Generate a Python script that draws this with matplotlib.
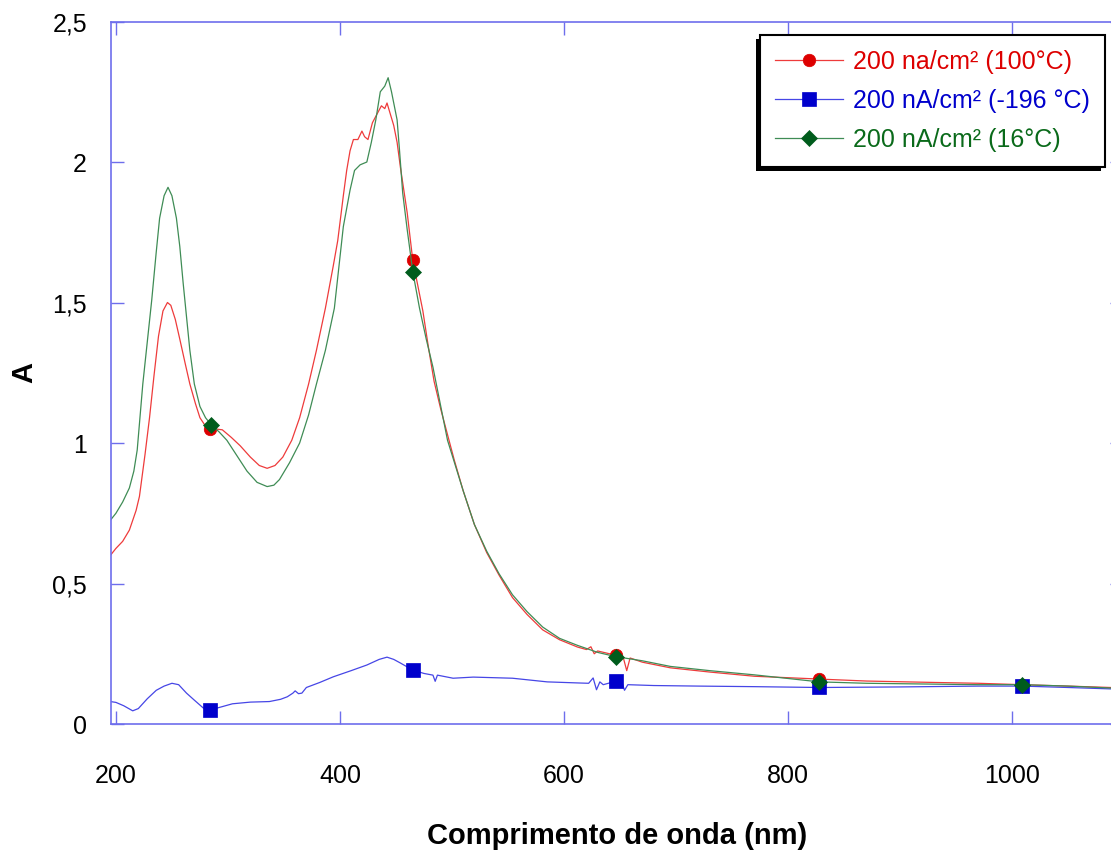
import numpy as np
import matplotlib
matplotlib.use("Agg")
import matplotlib.pyplot as plt
from matplotlib.patches import Rectangle
from matplotlib.transforms import IdentityTransform

plt.rcParams["font.family"] = ["Liberation Sans", "DejaVu Sans"]

# 200 na/cm2 (100 C)
red_x = [195, 200, 206, 212, 218, 221, 226, 230, 234, 238, 242, 246, 249, 253, 257, 262,
         266, 271, 275, 280, 284, 289, 295, 303, 311, 320, 328, 335, 342, 349, 357, 364,
         372, 379, 387, 394, 398, 403, 406, 409, 412, 416, 419.6, 422, 425, 429, 433, 437,
         440, 442, 445, 448, 451, 454, 457, 460, 465, 470, 474, 479, 484, 490, 495, 502,
         510, 520, 531, 542, 554, 567, 581, 596, 612, 620, 624, 627, 630, 646, 650, 653,
         656, 659, 670, 695, 730, 770, 828, 870, 930, 970, 1009, 1050, 1088]
red_y = [0.60, 0.625, 0.65, 0.69, 0.76, 0.81, 0.96, 1.09, 1.24, 1.38, 1.47, 1.50, 1.49, 1.44,
         1.37, 1.28, 1.21, 1.14, 1.09, 1.06, 1.05, 1.05, 1.047, 1.02, 0.99, 0.95, 0.92, 0.91,
         0.92, 0.95, 1.01, 1.09, 1.21, 1.33, 1.48, 1.63, 1.72, 1.88, 1.97, 2.04, 2.08, 2.08,
         2.11, 2.09, 2.08, 2.14, 2.17, 2.20, 2.19, 2.21, 2.17, 2.13, 2.07, 1.98, 1.90, 1.82,
         1.65, 1.55, 1.47, 1.34, 1.22, 1.12, 1.045, 0.94, 0.83, 0.71, 0.61, 0.53, 0.45, 0.39,
         0.335, 0.30, 0.274, 0.265, 0.275, 0.25, 0.26, 0.245, 0.24, 0.235, 0.19, 0.235, 0.22,
         0.20, 0.185, 0.17, 0.16, 0.153, 0.148, 0.145, 0.14, 0.135, 0.13]
red_mk = [284, 465, 646, 828, 1009]

# 200 nA/cm2 (-196 C)
blue_x = [195, 200, 207, 215, 220, 228, 236, 243, 250, 256, 263, 270, 278, 284, 295, 304,
          320, 337, 347, 353, 358, 360, 363, 366, 370, 382, 394, 410, 424, 435, 442, 448,
          454, 465, 475, 483, 485, 487, 501, 519, 554, 585, 614, 622, 626, 629, 632, 635,
          646, 652, 654, 657, 680, 720, 770, 828, 900, 970, 1009, 1050, 1088]
blue_y = [0.08, 0.077, 0.065, 0.047, 0.055, 0.09, 0.12, 0.135, 0.145, 0.14, 0.11, 0.085,
          0.057, 0.05, 0.062, 0.072, 0.078, 0.08, 0.088, 0.097, 0.11, 0.118, 0.108, 0.11,
          0.13, 0.148, 0.168, 0.19, 0.21, 0.23, 0.238, 0.23, 0.217, 0.192, 0.18, 0.174,
          0.152, 0.174, 0.163, 0.167, 0.163, 0.15, 0.146, 0.145, 0.164, 0.122, 0.15, 0.14,
          0.152, 0.145, 0.12, 0.14, 0.137, 0.135, 0.133, 0.13, 0.132, 0.135, 0.135, 0.13,
          0.125]
blue_mk = [284, 465, 646, 828, 1009]

# 200 nA/cm2 (16 C)
green_x = [195, 200, 206, 212, 216, 219, 224, 228, 232, 236, 239, 243, 246.5, 250, 254,
           257, 260, 263, 266, 270, 275, 280, 285, 292, 299, 308, 317, 326, 335, 341, 346,
           355, 364, 372, 379, 387, 395, 403, 409, 413, 418, 424, 428, 432, 436, 440, 443,
           446, 451, 453, 456, 460, 465, 471, 477, 483, 490, 496, 503, 510, 520, 531, 542,
           554, 567, 581, 596, 612, 630, 646, 670, 695, 730, 770, 828, 870, 930, 970, 1009,
           1050, 1088]
green_y = [0.725, 0.75, 0.79, 0.84, 0.90, 0.975, 1.21, 1.36, 1.51, 1.68, 1.80, 1.88, 1.91,
           1.88, 1.80, 1.70, 1.57, 1.45, 1.33, 1.21, 1.13, 1.09, 1.065, 1.04, 1.01, 0.955,
           0.90, 0.86, 0.845, 0.85, 0.87, 0.93, 1.00, 1.10, 1.21, 1.33, 1.48, 1.77, 1.90,
           1.97, 1.99, 2.00, 2.07, 2.15, 2.25, 2.27, 2.30, 2.25, 2.15, 2.05, 1.89, 1.76, 1.61,
           1.48, 1.37, 1.27, 1.13, 1.01, 0.92, 0.83, 0.71, 0.615, 0.535, 0.46, 0.40, 0.345,
           0.305, 0.28, 0.255, 0.24, 0.225, 0.205, 0.19, 0.175, 0.15, 0.145, 0.142, 0.14,
           0.14, 0.135, 0.128]
green_mk = [285, 465, 646, 828, 1009]

labels = ["200 na/cm² (100°C)", "200 nA/cm² (-196 °C)", "200 nA/cm² (16°C)"]
x_ticks = [200, 400, 600, 800, 1000]
y_ticks = [0, 0.5, 1, 1.5, 2, 2.5]
y_ticklabels = ["0", "0,5", "1", "1,5", "2", "2,5"]

fig = plt.figure(figsize=(11.11, 8.5), dpi=100)
ax = fig.add_axes([0.0996, 0.1482, 0.9112, 0.8265])

series = [
    (red_x, red_y, red_mk, "#ee3b3b", "#dd0000", "o", 9),
    (blue_x, blue_y, blue_mk, "#4646e6", "#0000cc", "s", 10),
    (green_x, green_y, green_mk, "#3f8c55", "#005c1c", "D", 8),
]
for (xs, ys, mk, lc, mc, m, ms), lab in zip(series, labels):
    idx = [xs.index(v) for v in mk]
    ax.plot(xs, ys, color=lc, lw=0.9, marker=m, markevery=idx, ms=ms,
            mfc=mc, mec=mc, mew=0.5, label=lab)

ax.set_xlim(195.3, 1099)
ax.set_ylim(0, 2.5)
ax.set_xticks(x_ticks)
ax.set_yticks(y_ticks)
ax.set_yticklabels(y_ticklabels)

spine_c = "#6e6eec"
for s in ax.spines.values():
    s.set_color(spine_c)
    s.set_linewidth(1.2)
ax.tick_params(direction="in", length=9.5, width=1, color=spine_c,
               top=True, right=True, labelsize=18)
ax.tick_params(axis="x", pad=29)
ax.tick_params(axis="y", pad=17)

ax.set_xlabel("Comprimento de onda (nm)", fontsize=21, fontweight="bold", labelpad=24)
ax.set_ylabel("A", fontsize=21, fontweight="bold", labelpad=10)

leg = ax.legend(loc="upper right", bbox_to_anchor=(0.982, 0.981), borderaxespad=0,
                fontsize=18, frameon=True, fancybox=False, framealpha=1,
                handlelength=2.7, handletextpad=0.4, labelspacing=0.6, borderpad=0.6)
leg.get_frame().set_facecolor("white")
leg.get_frame().set_edgecolor("black")
leg.get_frame().set_linewidth(1.5)
for t, c in zip(leg.get_texts(), ["#dd0000", "#0000cc", "#0a6a1a"]):
    t.set_color(c)

# legend shadow toward lower left
fig.canvas.draw()
bb = leg.get_window_extent()
ax.add_patch(Rectangle((bb.x0 - 4, bb.y0 - 4), bb.width, bb.height,
                       transform=IdentityTransform(), facecolor="black",
                       edgecolor="none", zorder=4.9, clip_on=False))
ax.set_xlim(195.3, 1099)
ax.set_ylim(0, 2.5)

fig.savefig("out.png", dpi=100)
